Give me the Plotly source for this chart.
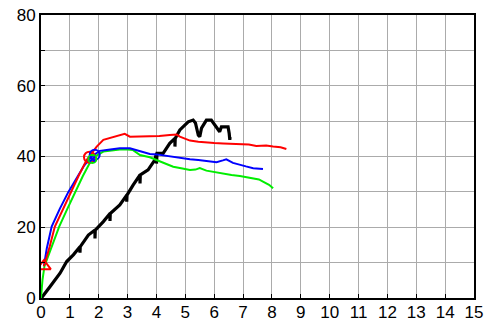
import plotly.graph_objects as go

red_x = [0.1, 0.3, 0.48, 0.75, 1.03, 1.3, 1.58, 1.7, 1.93, 2.16, 2.5, 2.9, 3.08, 3.43, 3.77, 4.1, 4.46, 4.7, 4.81, 5.16, 5.45, 5.73, 6.0, 6.31, 6.6, 6.89, 7.2, 7.46, 7.8, 8.04, 8.3, 8.5]
red_y = [9, 14.5, 20.2, 25, 30, 34.5, 39.0, 40.2, 42.8, 44.7, 45.5, 46.4, 45.6, 45.6, 45.6, 45.8, 46.1, 46.2, 45.6, 44.5, 44.2, 43.9, 43.8, 43.7, 43.6, 43.5, 43.4, 43.0, 43.1, 42.8, 42.6, 42.1]

blue_x = [0.1, 0.2, 0.37, 0.65, 0.95, 1.25, 1.5, 1.75, 1.85, 2.04, 2.4, 2.73, 3.08, 3.43, 3.77, 4.0, 4.3, 4.58, 4.9, 5.16, 5.45, 5.73, 6.08, 6.3, 6.42, 6.65, 6.89, 7.1, 7.35, 7.69]
blue_y = [9, 14, 20.2, 25.2, 30, 34.2, 37.5, 40.0, 40.6, 41.6, 42.0, 42.3, 42.3, 41.4, 40.7, 40.6, 40.2, 39.9, 39.6, 39.2, 39.0, 38.8, 38.4, 38.9, 39.2, 38.2, 37.6, 37.2, 36.7, 36.5]

green_x = [0.0, 0.05, 0.12, 0.3, 0.63, 0.9, 1.18, 1.45, 1.73, 1.87, 2.16, 2.45, 2.73, 3.0, 3.19, 3.43, 3.77, 4.0, 4.3, 4.58, 4.9, 5.16, 5.35, 5.5, 5.73, 6.0, 6.31, 6.6, 6.89, 7.1, 7.35, 7.55, 7.69, 7.9, 8.04]
green_y = [0, 5, 9, 13, 20.2, 25, 30, 34.5, 38.8, 40.0, 41.4, 41.8, 42.0, 42.0, 41.8, 40.4, 39.8, 39.0, 38.0, 37.1, 36.6, 36.2, 36.3, 36.7, 36.0, 35.6, 35.1, 34.8, 34.5, 34.2, 33.8, 33.5, 32.9, 32.0, 31.0]

black_x = [0.0, 0.05, 0.31, 0.66, 0.89, 1.12, 1.35, 1.35, 1.36, 1.64, 1.87, 1.87, 1.88, 2.16, 2.39, 2.39, 2.4, 2.73, 2.97, 2.97, 2.98, 3.19, 3.43, 3.43, 3.44, 3.71, 3.94, 4.0, 4.0, 4.02, 4.23, 4.46, 4.64, 4.64, 4.65, 4.81, 4.98, 5.1, 5.27, 5.35, 5.45, 5.5, 5.56, 5.73, 5.9, 6.08, 6.19, 6.25, 6.48, 6.52, 6.54, 6.55]
black_y = [0.0, 0.4, 3.2, 7.0, 10.3, 12.2, 14.5, 12.8, 14.5, 17.8, 19.2, 16.8, 19.2, 21.6, 23.9, 21.8, 23.9, 26.3, 29.1, 27.2, 29.1, 31.9, 34.8, 32.4, 34.8, 36.2, 39.0, 40.9, 38.0, 40.9, 40.9, 43.7, 45.1, 42.8, 45.1, 47.5, 48.9, 49.8, 50.3, 49.5, 46.0, 45.6, 48.0, 50.3, 50.3, 48.4, 47.0, 48.4, 48.4, 46.5, 44.7, 45.5]

marker_x = [0.1, 1.68, 1.86, 1.78]
marker_y = [9.0, 39.8, 40.5, 39.3]

x_ticks = list(range(0, 16))
y_ticks = [0, 10, 20, 30, 40, 50, 60, 70, 80]
y_labels = ["0", "", "20", "", "40", "", "60", "", "80"]

fig = go.Figure()
fig.add_trace(go.Scatter(x=black_x, y=black_y, mode="lines",
                         line=dict(color="black", width=3.2)))
fig.add_trace(go.Scatter(x=green_x, y=green_y, mode="lines",
                         line=dict(color="#00ee00", width=2)))
fig.add_trace(go.Scatter(x=blue_x, y=blue_y, mode="lines",
                         line=dict(color="#0000ff", width=2)))
fig.add_trace(go.Scatter(x=red_x, y=red_y, mode="lines",
                         line=dict(color="#ff0000", width=2)))
fig.add_trace(go.Scatter(x=[marker_x[0]], y=[marker_y[0]], mode="markers",
                         marker=dict(symbol="triangle-up-open", size=12, color="#ff0000", line=dict(width=2))))
fig.add_trace(go.Scatter(x=[marker_x[1]], y=[marker_y[1]], mode="markers",
                         marker=dict(symbol="circle-open", size=11, color="#ff0000", line=dict(width=2))))
fig.add_trace(go.Scatter(x=[marker_x[2]], y=[marker_y[2]], mode="markers",
                         marker=dict(symbol="circle-open", size=10, color="#0000ff", line=dict(width=2))))
fig.add_trace(go.Scatter(x=[marker_x[3]], y=[marker_y[3]], mode="markers",
                         marker=dict(symbol="circle-open", size=8, color="#00ee00", line=dict(width=2))))
fig.add_trace(go.Scatter(x=[marker_x[3]], y=[marker_y[3]], mode="markers",
                         marker=dict(symbol="x-thin-open", size=5, color="#0000ff", line=dict(width=2))))

axis_common = dict(showgrid=True, gridcolor="#ababab", gridwidth=1, zeroline=False,
                   showline=True, linecolor="black", linewidth=2, mirror=True,
                   ticks="inside", ticklen=4, tickcolor="black", tickwidth=1,
                   automargin=False,
                   tickfont=dict(family="Liberation Sans, Arial", size=17, color="black"))

fig.update_xaxes(range=[0, 15], tickmode="array", tickvals=x_ticks,
                 ticktext=[str(v) for v in x_ticks], ticklabelstandoff=-2, **axis_common)
fig.update_yaxes(range=[0, 80], tickmode="array", tickvals=y_ticks,
                 ticktext=y_labels, **axis_common)

fig.update_layout(width=491, height=322, showlegend=False,
                  margin=dict(l=41, r=17, t=15, b=24),
                  paper_bgcolor="white", plot_bgcolor="white")

# remove the browser's default 8px body margin so the figure fills the window
fig.write_html("out.html", config={"displayModeBar": False},
               post_script="document.body.style.margin='0';document.body.style.overflow='hidden';")
